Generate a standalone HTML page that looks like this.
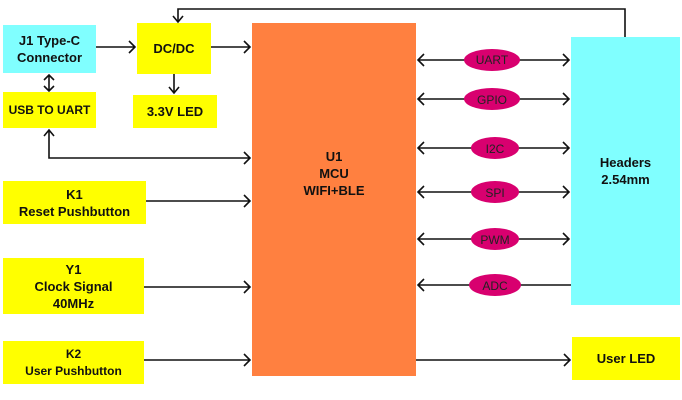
<!DOCTYPE html>
<html><head><style>
body{margin:0;width:682px;height:400px;background:#fff;overflow:hidden;position:relative;font-family:"Liberation Sans",sans-serif;font-weight:bold}
.b{position:absolute;display:flex;align-items:center;justify-content:center;text-align:center;font-size:13px;line-height:17px;color:#111}
.y{background:#ffff00}.c{background:#80ffff}
</style></head><body>
<div class="b c" style="left:3px;top:25px;width:93px;height:48px">J1 Type-C<br>Connector</div>
<div class="b y" style="left:137px;top:23px;width:74px;height:51px">DC/DC</div>
<div class="b y" style="left:133px;top:95px;width:84px;height:33px">3.3V LED</div>
<div class="b y" style="left:3px;top:92px;width:93px;height:36px;font-size:12px">USB TO UART</div>
<div class="b y" style="left:3px;top:181px;width:143px;height:43px">K1<br>Reset Pushbutton</div>
<div class="b y" style="left:3px;top:258px;width:141px;height:56px">Y1<br>Clock Signal<br>40MHz</div>
<div class="b y" style="left:3px;top:341px;width:141px;height:43px;font-size:12px">K2<br>User Pushbutton</div>
<div class="b" style="left:252px;top:23px;width:164px;height:353px;background:#ff8040;align-items:flex-start;padding-top:0"><div style="margin-top:125px">U1<br>MCU<br>WIFI+BLE</div></div>
<div class="b c" style="left:571px;top:37px;width:109px;height:268px">Headers<br>2.54mm</div>
<div class="b y" style="left:572px;top:337px;width:108px;height:43px">User LED</div>
<svg width="682" height="400" style="position:absolute;left:0;top:0" fill="none" stroke="#111" stroke-width="1.6">
<path d="M625 37V9H178V22"/><path d="M173 16l5 6 5-6"/>
<path d="M96 47H135M129 41l6 6-6 6"/>
<path d="M211 47H250M244 41l6 6-6 6"/>
<path d="M174 74V93M169 87l5 6 5-6"/>
<path d="M49 75V91M44 80l5-5 5 5M44 86l5 5 5-5"/>
<path d="M49 130V158H250M44 136l5-6 5 6M244 152l6 6-6 6"/>
<path d="M146 201H250M244 195l6 6-6 6"/>
<path d="M144 287H250M244 281l6 6-6 6"/>
<path d="M144 360H250M244 354l6 6-6 6"/>
<path d="M416 360H570M564 354l6 6-6 6"/>
<g>
<path d="M418 60H569M424 54l-6 6 6 6M563 54l6 6-6 6"/>
<path d="M418 99H569M424 93l-6 6 6 6M563 93l6 6-6 6"/>
<path d="M418 148H569M424 142l-6 6 6 6M563 142l6 6-6 6"/>
<path d="M418 192H569M424 186l-6 6 6 6M563 186l6 6-6 6"/>
<path d="M418 239H569M424 233l-6 6 6 6M563 233l6 6-6 6"/>
<path d="M418 285H571M424 279l-6 6 6 6"/>
</g>
<g fill="#d8006f" stroke="none">
<ellipse cx="492" cy="60" rx="28" ry="11"/><ellipse cx="492" cy="99" rx="28" ry="11"/>
<ellipse cx="495" cy="148" rx="24" ry="11"/><ellipse cx="495" cy="192" rx="24" ry="11"/>
<ellipse cx="495" cy="239" rx="24" ry="11"/><ellipse cx="495" cy="285" rx="26" ry="11"/>
</g>
<g fill="#222" stroke="none" font-family="Liberation Sans" font-size="12" font-weight="normal" text-anchor="middle">
<text x="492" y="64">UART</text><text x="492" y="104">GPIO</text><text x="495" y="153">I2C</text>
<text x="495" y="197">SPI</text><text x="495" y="244">PWM</text><text x="495" y="290">ADC</text>
</g>
</svg>
</body></html>
